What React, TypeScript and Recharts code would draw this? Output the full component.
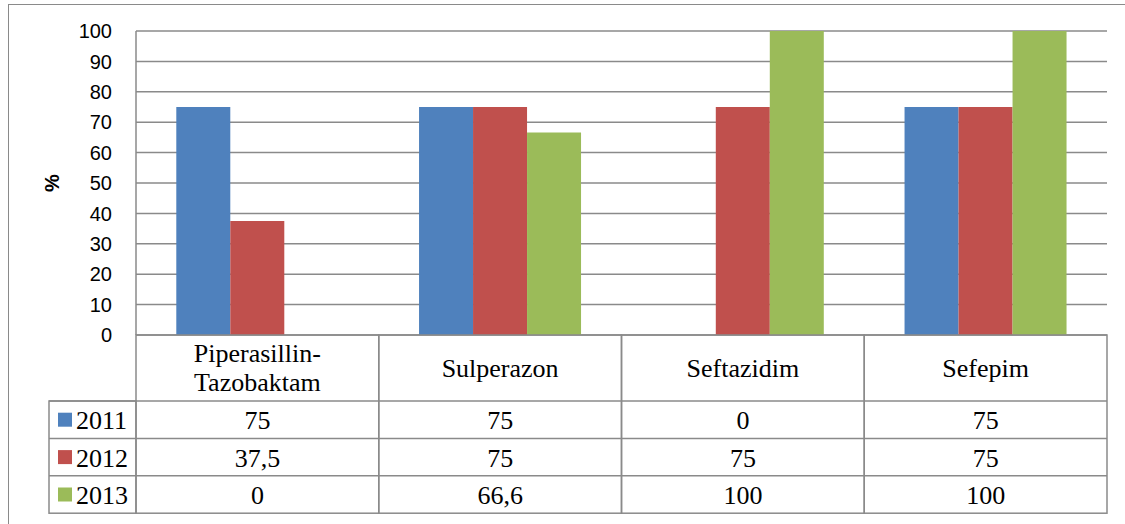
import React from "react";
import { BarChart, Bar, XAxis, YAxis, CartesianGrid } from "recharts";

// Resistance rates (%) by antibiotic and year
const drugs = ["Piperasillin-Tazobaktam", "Sulperazon", "Seftazidim", "Sefepim"];
const years = ["2011", "2012", "2013"];
const values2011 = [75, 75, 0, 75];
const values2012 = [37.5, 75, 75, 75];
const values2013 = [0, 66.6, 100, 100];
const yTicks = [0, 10, 20, 30, 40, 50, 60, 70, 80, 90, 100];

const colors = ["#4F81BD", "#C0504D", "#9BBB59"];
const seriesValues = [values2011, values2012, values2013];

const data = drugs.map((name, i) => ({
  name,
  y2011: values2011[i],
  y2012: values2012[i],
  y2013: values2013[i],
}));

const W = 1125;
const H = 524;
const MARGIN = { top: 31, right: 18, bottom: 0, left: 0 };
const Y_AXIS_W = 136;
const HEADER_H = 66;
const ROW_H = 37.4;
const LEGEND_LEFT = 49;
const LINE = "#8a8a8a";
const SERIF = "Liberation Serif";
const SANS = "Liberation Sans";

const serifText: React.CSSProperties = { fontFamily: SERIF, fontSize: 26, fill: "#000" };

const fmt = (v: number) => String(v).replace(".", ",");

// Each x tick draws one column of the data table under the plot
const TableColumn = (props: any) => {
  const { x, y, payload } = props;
  const idx: number = payload.index;
  const plotW = W - MARGIN.left - MARGIN.right - Y_AXIS_W;
  const half = payload.offset || plotW / drugs.length / 2;
  const left = x - half;
  const right = x + half;
  const rowsTop = y + HEADER_H;
  const bottom = rowsTop + ROW_H * years.length;
  const lines = String(payload.value).split(/(?<=-)/);

  return (
    <g>
      <rect x={left} y={y} width={right - left} height={bottom - y} fill="none" stroke={LINE} strokeWidth={1.5} />
      {years.map((_, r) => (
        <line key={r} x1={left} x2={right} y1={rowsTop + ROW_H * r} y2={rowsTop + ROW_H * r} stroke={LINE} strokeWidth={1.5} />
      ))}
      {lines.map((ln, k) => (
        <text
          key={k}
          x={x}
          y={y + HEADER_H / 2 + (k - (lines.length - 1) / 2) * 29}
          textAnchor="middle"
          dominantBaseline="central"
          style={serifText}
        >
          {ln}
        </text>
      ))}
      {seriesValues.map((vals, r) => (
        <text
          key={r}
          x={x}
          y={rowsTop + ROW_H * r + ROW_H / 2 + 1}
          textAnchor="middle"
          dominantBaseline="central"
          style={serifText}
        >
          {fmt(vals[idx])}
        </text>
      ))}
      {idx === 0 && (
        <g>
          <rect x={LEGEND_LEFT} y={rowsTop} width={left - LEGEND_LEFT} height={bottom - rowsTop} fill="none" stroke={LINE} strokeWidth={1.5} />
          {years.map((yr, r) => (
            <g key={yr}>
              <line x1={LEGEND_LEFT} x2={left} y1={rowsTop + ROW_H * r} y2={rowsTop + ROW_H * r} stroke={LINE} strokeWidth={1.5} />
              <rect x={LEGEND_LEFT + 9} y={rowsTop + ROW_H * r + ROW_H / 2 - 7} width={14} height={14} fill={colors[r]} />
              <text
                x={LEGEND_LEFT + 27}
                y={rowsTop + ROW_H * r + ROW_H / 2 + 1}
                dominantBaseline="central"
                style={serifText}
              >
                {yr}
              </text>
            </g>
          ))}
        </g>
      )}
    </g>
  );
};

const PercentLabel = (props: any) => {
  const { viewBox } = props;
  const cy = viewBox.y + viewBox.height / 2;
  const cx = 52;
  return (
    <text
      x={cx}
      y={cy}
      transform={`rotate(-90, ${cx}, ${cy})`}
      textAnchor="middle"
      dominantBaseline="central"
      style={{ fontFamily: SANS, fontWeight: "bold", fontSize: 20, fill: "#000" }}
    >
      %
    </text>
  );
};

export default function App() {
  return (
    <div style={{ position: "absolute", left: 0, top: 0, width: W, height: H, background: "#fff", overflow: "hidden" }}>
      {/* chart frame: only its top and left edges fall inside the image */}
      <div
        style={{
          position: "absolute",
          left: 8,
          top: 4,
          width: W,
          height: H,
          borderTop: `1.5px solid ${LINE}`,
          borderLeft: `1.5px solid ${LINE}`,
        }}
      />
      <div style={{ position: "absolute", left: 0, top: 0 }}>
        <BarChart width={W} height={H} data={data} margin={MARGIN} barGap={0} barCategoryGap="16.6%">
          <CartesianGrid vertical={false} stroke={LINE} strokeWidth={1.5} />
          <XAxis
            dataKey="name"
            height={H - MARGIN.top - MARGIN.bottom - 304}
            axisLine={false}
            tickLine={false}
            tickSize={0}
            tickMargin={0}
            interval={0}
            tick={<TableColumn />}
          />
          <YAxis
            width={Y_AXIS_W}
            domain={[0, 100]}
            ticks={yTicks}
            interval={0}
            axisLine={{ stroke: LINE, strokeWidth: 1.5 }}
            tickLine={false}
            tickSize={0}
            tickMargin={24}
            tick={{ fontFamily: SANS, fontSize: 20, fill: "#000" }}
            label={<PercentLabel />}
          />
          <Bar dataKey="y2011" fill={colors[0]} isAnimationActive={false} />
          <Bar dataKey="y2012" fill={colors[1]} isAnimationActive={false} />
          <Bar dataKey="y2013" fill={colors[2]} isAnimationActive={false} />
        </BarChart>
      </div>
    </div>
  );
}
